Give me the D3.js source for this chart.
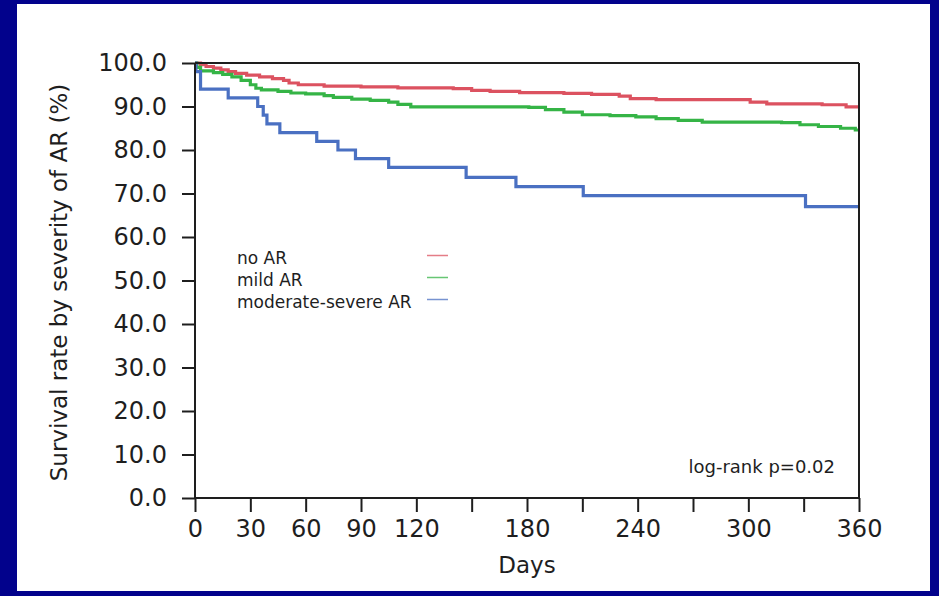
<!DOCTYPE html>
<html><head><meta charset="utf-8">
<script src="https://cdn.jsdelivr.net/npm/d3@7"></script>
<style>
html,body{margin:0;padding:0;background:#02028c;}
svg{display:block;}
text{font-family:"DejaVu Sans",sans-serif;fill:#1e1e1e;}
</style></head>
<body>
<svg id="chart" width="939" height="596"></svg>
<script>
// ---- data ----
const seriesNames = ["no AR", "mild AR", "moderate-severe AR"];
const noARDays = [0,3,6,10,14,18,22,28,35,42,48,51,56,70,90,110,140,150,160,176,200,215,230,236,250,280,301,310,340,353,360];
const noARSurv = [100,99.6,99.2,98.8,98.4,98.0,97.6,97.2,96.8,96.4,96.0,95.4,95.0,94.7,94.5,94.3,94.1,93.7,93.5,93.2,93.0,92.8,92.4,91.8,91.6,91.6,91.0,90.6,90.4,89.9,89.9];
const mildDays = [0,1,3,10,15,20,25,30,33,36,45,52,60,70,75,85,95,105,110,117,181,190,200,210,225,239,250,262,275,318,328,338,350,358,360];
const mildSurv = [100,99,98.2,97.8,97.4,96.8,96.0,95.0,94.2,93.8,93.5,93.1,92.9,92.5,92.1,91.7,91.4,91.0,90.5,89.9,89.8,89.3,88.7,88.1,87.9,87.6,87.2,86.8,86.4,86.3,85.8,85.4,85.0,84.6,84.6];
const modSevDays = [0,0.5,3,18,34,37,39,46,66,77.5,87,105,147,174,210.5,331,360];
const modSevSurv = [100,98,94,92,90,88,86,84,82,80,78,76,73.7,71.6,69.5,67,67];
const xTickValues = [0,30,60,90,120,150,180,210,240,270,300,330,360];
const xTickLabels = [0,30,60,90,120,180,240,300,360];
const yTickValues = [0,10,20,30,40,50,60,70,80,90,100];
const xTitle = "Days";
const yTitle = "Survival rate by severity of AR (%)";
const noteText = "log-rank p=0.02";

const colors = ["#dc5260", "#35b446", "#4a70c2"];
const series = [
  {name: seriesNames[0], days: noARDays, surv: noARSurv},
  {name: seriesNames[1], days: mildDays, surv: mildSurv},
  {name: seriesNames[2], days: modSevDays, surv: modSevSurv}
];

const svg = d3.select("#chart");
// white panel
svg.append("rect").attr("x",17).attr("y",4).attr("width",913).attr("height",587).attr("fill","#ffffff");

const L = 195, R = 859, T = 63, B = 498;
const x = d3.scaleLinear().domain([0,360]).range([L,R]);
const y = d3.scaleLinear().domain([0,100]).range([B,T]);

// curves
const line = d3.line().curve(d3.curveStepAfter).x(d=>x(d[0])).y(d=>y(d[1]));
series.forEach((s,i)=>{
  const pts = s.days.map((d,j)=>[d, s.surv[j]]);
  svg.append("path").attr("d", line(pts)).attr("fill","none")
    .attr("stroke", colors[i]).attr("stroke-width",3.2);
});

// frame top/right
svg.append("line").attr("x1",L).attr("x2",R).attr("y1",T).attr("y2",T).attr("stroke","#1e1e1e").attr("stroke-width",2);
svg.append("line").attr("x1",R).attr("x2",R).attr("y1",T).attr("y2",B).attr("stroke","#1e1e1e").attr("stroke-width",2);

// axes
const xAxis = d3.axisBottom(x).tickValues(xTickValues).tickSize(14).tickPadding(8)
  .tickFormat(d => xTickLabels.includes(d) ? String(d) : "");
const gx = svg.append("g").attr("transform",`translate(0,${B})`).call(xAxis);
const yAxis = d3.axisLeft(y).tickValues(yTickValues).tickSize(13).tickPadding(15)
  .tickFormat(d3.format(".1f"));
const gy = svg.append("g").attr("transform",`translate(${L},0)`).call(yAxis);
[gx,gy].forEach(g=>{
  g.select(".domain").attr("stroke","#1e1e1e").attr("stroke-width",2);
  g.selectAll(".tick line").attr("stroke","#1e1e1e").attr("stroke-width",2);
  g.selectAll(".tick text").attr("font-family","DejaVu Sans").attr("font-size",24).attr("fill","#1e1e1e");
});
gx.select(".domain").attr("d",`M${L},0H${R}`);
gy.select(".domain").attr("d",`M0,${B}V${T}`);

// titles
svg.append("text").attr("x",(L+R)/2).attr("y",573).attr("text-anchor","middle")
  .attr("font-size",23).text(xTitle);
svg.append("text").attr("transform",`translate(67,${(T+B)/2+2}) rotate(-90)`)
  .attr("text-anchor","middle").attr("font-size",23).text(yTitle);

// legend
series.forEach((s,i)=>{
  const by = 264 + i*22;
  svg.append("text").attr("x",237).attr("y",by).attr("font-size",17).text(s.name);
  svg.append("line").attr("x1",427).attr("x2",448).attr("y1",by-8.5).attr("y2",by-8.5)
    .attr("stroke",colors[i]).attr("stroke-width",1.5).attr("opacity",0.75);
});

// note
svg.append("text").attr("x",835).attr("y",473).attr("text-anchor","end")
  .attr("font-size",18).text(noteText);
</script>
</body></html>
